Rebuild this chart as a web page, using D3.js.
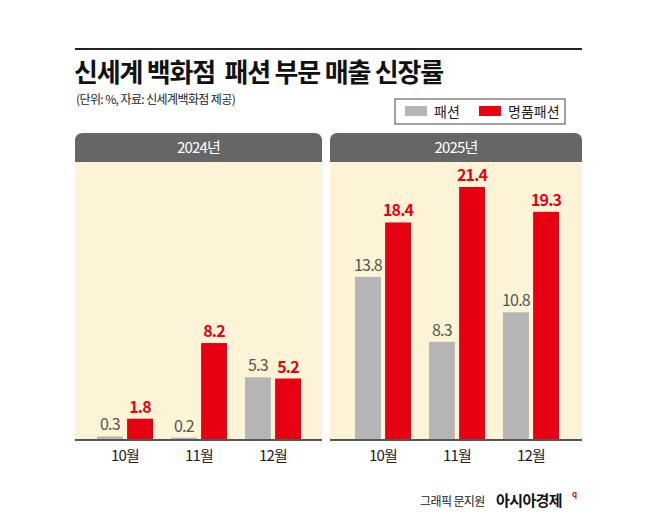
<!DOCTYPE html>
<html><head><meta charset="utf-8">
<script src="https://cdn.jsdelivr.net/npm/d3@7"></script>
<style>body{margin:0;background:#fff}text{font-family:"Noto Sans CJK KR","Noto Sans",sans-serif;white-space:pre}</style>
</head><body><svg id="c" width="658" height="525"></svg>
<script>
const years = ['2024년', '2025년'];
const months = ['10월', '11월', '12월'];
const fashion = [[0.3, 0.2, 5.3], [13.8, 8.3, 10.8]];
const luxury = [[1.8, 8.2, 5.2], [18.4, 21.4, 19.3]];
const seriesNames = ['패션', '명품패션'];
const colors = ['#b5b5b5', '#e60012'];
const labelColors = ['#555', '#e60012'];

const svg = d3.select('#c');
const base = 440;
const y = d3.scaleLinear().domain([0, 21.4]).range([base, 187]);

svg.append('line').attr('x1', 75).attr('x2', 582).attr('y1', 49).attr('y2', 49)
  .attr('stroke', '#222').attr('stroke-width', 2);
svg.append('text').attr('x', 74).attr('y', 82).attr('font-size', 26).attr('font-weight', 700)
  .attr('fill', '#111').attr('letter-spacing', -1.2).text('신세계 백화점  패션 부문 매출 신장률');
svg.append('text').attr('x', 76).attr('y', 104).attr('font-size', 12).attr('fill', '#222')
  .attr('letter-spacing', -0.6).text('(단위: %, 자료: 신세계백화점 제공)');

// legend
svg.append('rect').attr('x', 395).attr('y', 99).attr('width', 170).attr('height', 25)
  .attr('fill', '#fff').attr('stroke', '#444');
const lg = [[405, 434], [479, 508]];
seriesNames.forEach((n, i) => {
  svg.append('rect').attr('x', lg[i][0]).attr('y', 106).attr('width', 22).attr('height', 10).attr('fill', colors[i]);
  svg.append('text').attr('x', lg[i][1]).attr('y', 117).attr('font-size', 14).attr('fill', '#222').text(n);
});

const panels = [[75, 322, [88, 310]], [330, 582, [346, 568]]];
const inner = d3.scaleBand().domain([0, 1]).range([-28, 28]).paddingInner(0.14);

panels.forEach(([x0, x1, rng], p) => {
  const w = x1 - x0;
  svg.append('rect').attr('x', x0).attr('y', 158).attr('width', w).attr('height', base - 158).attr('fill', '#fdf3d6');
  svg.append('path').attr('fill', '#666').attr('d',
    `M${x0},162V141Q${x0},133 ${x0 + 8},133H${x1 - 8}Q${x1},133 ${x1},141V162Z`);
  svg.append('text').attr('x', x0 + w / 2).attr('y', 153).attr('text-anchor', 'middle')
    .attr('font-size', 15).attr('fill', '#fff').attr('letter-spacing', -0.8).text(years[p]);

  const x = d3.scaleBand().domain(months).range(rng);
  const g = svg.append('g');
  [fashion[p], luxury[p]].forEach((vals, s) => {
    months.forEach((m, i) => {
      const cx = x(m) + x.bandwidth() / 2 + inner(s);
      g.append('rect').attr('x', cx).attr('y', y(vals[i])).attr('width', inner.bandwidth())
        .attr('height', base - y(vals[i])).attr('fill', colors[s]);
      g.append('text').attr('x', cx + inner.bandwidth() / 2).attr('y', y(vals[i]) - 6)
        .attr('text-anchor', 'middle').attr('font-size', 16).attr('letter-spacing', -0.8)
        .attr('font-weight', s ? 700 : 400).attr('fill', labelColors[s]).text(vals[i]);
    });
  });
  const ax = svg.append('g').attr('transform', `translate(0,${base})`)
    .call(d3.axisBottom(x).tickSize(0).tickPadding(10));
  ax.select('.domain').remove();
  svg.append('line').attr('x1', x0).attr('x2', x1).attr('y1', base).attr('y2', base)
    .attr('stroke', '#555').attr('stroke-width', 2);
  ax.selectAll('text').attr('font-size', 15).attr('fill', '#222').attr('letter-spacing', -0.8)
    .attr('font-family', '"Noto Sans CJK KR",sans-serif');
});

svg.append('text').attr('x', 420).attr('y', 506).attr('font-size', 12).attr('fill', '#222')
  .attr('letter-spacing', -0.6).text('그래픽 문지원');
svg.append('text').attr('x', 496).attr('y', 506).attr('font-size', 15).attr('font-weight', 700)
  .attr('fill', '#111').attr('letter-spacing', -0.6).text('아시아경제');
svg.append('text').attr('x', 572).attr('y', 497).attr('font-size', 8).attr('font-weight', 700)
  .attr('fill', '#e60012').text('q');
</script></body></html>
